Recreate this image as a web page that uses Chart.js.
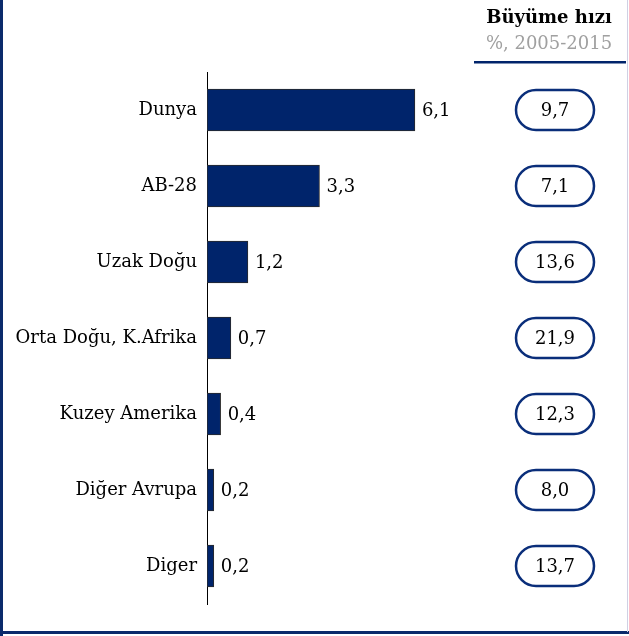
<!DOCTYPE html>
<html>
<head>
<meta charset="utf-8">
<script src="https://cdn.jsdelivr.net/npm/chart.js@4/dist/chart.umd.min.js"></script>
<style>
    html, body { margin: 0; padding: 0; background: #fff; }
    #wrap { width: 629px; height: 636px; position: relative; }
</style>
</head>
<body>
<div id="wrap"><canvas id="growthChart"></canvas></div>
<script>
const categories = ['Dunya', 'AB-28', 'Uzak Doğu', 'Orta Doğu, K.Afrika', 'Kuzey Amerika', 'Diğer Avrupa', 'Diger'];
const values = [6.1, 3.3, 1.2, 0.7, 0.4, 0.2, 0.2];
const growthRates = [9.7, 7.1, 13.6, 21.9, 12.3, 8.0, 13.7];
const headerTitle = 'Büyüme hızı';
const headerSub = '%, 2005-2015';

const NAVY = '#00246b';
const FONT = '"DejaVu Serif", serif';

function fmt(v) {
    return v.toFixed(1).replace('.', ',');
}

// frame, header and growth pills drawn around the bars
const decorPlugin = {
    id: 'decor',
    afterDraw(chart) {
        const ctx = chart.ctx;
        const yScale = chart.scales.y;
        ctx.save();

        // frame: navy left + bottom, faint right
        ctx.fillStyle = '#0b2a6b';
        ctx.fillRect(0, 0, 3, 636);
        ctx.fillRect(0, 631, 629, 3);
        ctx.fillStyle = '#d0d0e4';
        ctx.fillRect(627, 0, 1, 632);

        // header
        const hx = 549;
        ctx.textAlign = 'center';
        ctx.textBaseline = 'alphabetic';
        ctx.fillStyle = '#000';
        ctx.font = 'bold 18px ' + FONT;
        ctx.fillText(headerTitle, hx, 23);
        ctx.fillStyle = '#a0a0a0';
        ctx.font = '18px ' + FONT;
        ctx.fillText(headerSub, hx, 49);
        ctx.fillStyle = NAVY;
        ctx.fillRect(474, 61, 152, 2.5);

        // pills
        const px = 555, pw = 78, ph = 40;
        ctx.strokeStyle = '#0a2e7a';
        ctx.lineWidth = 2.5;
        ctx.font = '18px ' + FONT;
        ctx.textBaseline = 'middle';
        growthRates.forEach((g, i) => {
            const y = yScale.getPixelForValue(i);
            ctx.beginPath();
            ctx.roundRect(px - pw / 2, y - ph / 2, pw, ph, ph / 2);
            ctx.stroke();
            ctx.fillStyle = '#000';
            ctx.fillText(fmt(g), px, y + 1);
        });

        // value labels at bar ends
        ctx.textAlign = 'left';
        const meta = chart.getDatasetMeta(0);
        meta.data.forEach((bar, i) => {
            ctx.fillText(fmt(values[i]), bar.x + 7, bar.y + 1);
        });
        ctx.restore();
    }
};

new Chart(document.getElementById('growthChart').getContext('2d'), {
    type: 'bar',
    data: {
        labels: categories,
        datasets: [{
            data: values,
            backgroundColor: NAVY,
            borderColor: '#2a2a2a',
            borderWidth: 1,
            borderSkipped: false,
            barThickness: 42
        }]
    },
    options: {
        indexAxis: 'y',
        responsive: true,
        maintainAspectRatio: false,
        animation: false,
        layout: {
            padding: { top: 72, bottom: 32, left: 0, right: 13 }
        },
        plugins: {
            legend: { display: false },
            tooltip: { enabled: false }
        },
        scales: {
            x: {
                display: false,
                min: 0,
                max: 12
            },
            y: {
                afterFit: scale => { scale.width = 207; },
                grid: { display: false, drawTicks: false },
                border: { display: true, color: '#000', width: 1 },
                ticks: {
                    padding: 10,
                    color: '#000',
                    font: { family: FONT, size: 18 }
                }
            }
        }
    },
    plugins: [decorPlugin]
});
</script>
</body>
</html>
